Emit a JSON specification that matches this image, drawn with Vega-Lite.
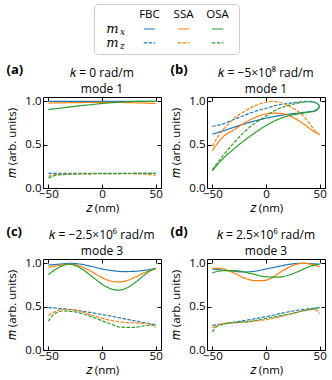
{
"$schema":"https://vega.github.io/schema/vega-lite/v6.json",
"background":"white",
"padding":{"left":6,"top":3,"right":1,"bottom":0},
"config":{
 "font":"Open Sans",
 "view":{"stroke":"black","strokeWidth":1},
 "axis":{"domain":false,"grid":false,"ticks":true,"tickSize":-4,"tickColor":"black","labelPadding":6,"labelFontSize":11.5,"titleFontSize":11.5,"labelColor":"black","titleColor":"black","titleFontWeight":"normal","titlePadding":2},
 "axisX":{"labelPadding":4,"titlePadding":3},
 "axisY":{"titlePadding":7},
 "title":{"fontSize":12,"fontWeight":"normal","color":"black","lineHeight":16,"offset":-32},
 "concat":{"spacing":7},
 "legend":{"disable":true}
},
"datasets":{
"legend":[
{"k":"hdr","col":"FBC","row":"hdr","txt":"FBC"},
{"k":"hdr","col":"SSA","row":"hdr","txt":"SSA"},
{"k":"hdr","col":"OSA","row":"hdr","txt":"OSA"},
{"k":"lab","col":"lab","row":"mx","txt":"m","sub":"x"},
{"k":"lab","col":"lab","row":"mz","txt":"m","sub":"z"},
{"k":"line","col":"FBC","row":"mx","end":"a"},{"k":"line","col":"FBC","row":"mx","end":"b"},
{"k":"line","col":"SSA","row":"mx","end":"a"},{"k":"line","col":"SSA","row":"mx","end":"b"},
{"k":"line","col":"OSA","row":"mx","end":"a"},{"k":"line","col":"OSA","row":"mx","end":"b"},
{"k":"line","col":"FBC","row":"mz","end":"a"},{"k":"line","col":"FBC","row":"mz","end":"b"},
{"k":"line","col":"SSA","row":"mz","end":"a"},{"k":"line","col":"SSA","row":"mz","end":"b"},
{"k":"line","col":"OSA","row":"mz","end":"a"},{"k":"line","col":"OSA","row":"mz","end":"b"}
],
"curves":[
{"p":"a","s":"FBC","c":"mx","z":-50,"m":1.0},{"p":"a","s":"FBC","c":"mx","z":-25,"m":1.0},{"p":"a","s":"FBC","c":"mx","z":0,"m":1.0},{"p":"a","s":"FBC","c":"mx","z":25,"m":1.0},{"p":"a","s":"FBC","c":"mx","z":50,"m":1.0},
{"p":"a","s":"SSA","c":"mx","z":-50,"m":0.98},{"p":"a","s":"SSA","c":"mx","z":-25,"m":0.985},{"p":"a","s":"SSA","c":"mx","z":0,"m":0.988},{"p":"a","s":"SSA","c":"mx","z":25,"m":0.985},{"p":"a","s":"SSA","c":"mx","z":50,"m":0.975},
{"p":"a","s":"OSA","c":"mx","z":-50,"m":0.905},{"p":"a","s":"OSA","c":"mx","z":-40,"m":0.92},{"p":"a","s":"OSA","c":"mx","z":-30,"m":0.935},{"p":"a","s":"OSA","c":"mx","z":-20,"m":0.95},{"p":"a","s":"OSA","c":"mx","z":-10,"m":0.962},{"p":"a","s":"OSA","c":"mx","z":0,"m":0.975},{"p":"a","s":"OSA","c":"mx","z":10,"m":0.985},{"p":"a","s":"OSA","c":"mx","z":20,"m":0.993},{"p":"a","s":"OSA","c":"mx","z":30,"m":0.998},{"p":"a","s":"OSA","c":"mx","z":40,"m":1.0},{"p":"a","s":"OSA","c":"mx","z":50,"m":1.0},
{"p":"a","s":"FBC","c":"mz","z":-50,"m":0.168},{"p":"a","s":"FBC","c":"mz","z":-25,"m":0.168},{"p":"a","s":"FBC","c":"mz","z":0,"m":0.168},{"p":"a","s":"FBC","c":"mz","z":25,"m":0.168},{"p":"a","s":"FBC","c":"mz","z":50,"m":0.168},
{"p":"a","s":"SSA","c":"mz","z":-50,"m":0.135},{"p":"a","s":"SSA","c":"mz","z":-45,"m":0.152},{"p":"a","s":"SSA","c":"mz","z":-40,"m":0.158},{"p":"a","s":"SSA","c":"mz","z":-20,"m":0.163},{"p":"a","s":"SSA","c":"mz","z":0,"m":0.165},{"p":"a","s":"SSA","c":"mz","z":20,"m":0.165},{"p":"a","s":"SSA","c":"mz","z":40,"m":0.16},{"p":"a","s":"SSA","c":"mz","z":45,"m":0.155},{"p":"a","s":"SSA","c":"mz","z":50,"m":0.145},
{"p":"a","s":"OSA","c":"mz","z":-50,"m":0.115},{"p":"a","s":"OSA","c":"mz","z":-45,"m":0.14},{"p":"a","s":"OSA","c":"mz","z":-40,"m":0.152},{"p":"a","s":"OSA","c":"mz","z":-20,"m":0.162},{"p":"a","s":"OSA","c":"mz","z":0,"m":0.165},{"p":"a","s":"OSA","c":"mz","z":20,"m":0.167},{"p":"a","s":"OSA","c":"mz","z":40,"m":0.168},{"p":"a","s":"OSA","c":"mz","z":50,"m":0.168},

{"p":"b","s":"FBC","c":"mx","z":-50,"m":0.62},{"p":"b","s":"FBC","c":"mx","z":-40,"m":0.66},{"p":"b","s":"FBC","c":"mx","z":-30,"m":0.70},{"p":"b","s":"FBC","c":"mx","z":-20,"m":0.74},{"p":"b","s":"FBC","c":"mx","z":-10,"m":0.775},{"p":"b","s":"FBC","c":"mx","z":0,"m":0.805},{"p":"b","s":"FBC","c":"mx","z":10,"m":0.83},{"p":"b","s":"FBC","c":"mx","z":20,"m":0.85},{"p":"b","s":"FBC","c":"mx","z":30,"m":0.865},{"p":"b","s":"FBC","c":"mx","z":40,"m":0.88},{"p":"b","s":"FBC","c":"mx","z":45,"m":0.89},{"p":"b","s":"FBC","c":"mx","z":50,"m":0.93},
{"p":"b","s":"FBC","c":"mz","z":-50,"m":0.71},{"p":"b","s":"FBC","c":"mz","z":-40,"m":0.74},{"p":"b","s":"FBC","c":"mz","z":-30,"m":0.79},{"p":"b","s":"FBC","c":"mz","z":-20,"m":0.84},{"p":"b","s":"FBC","c":"mz","z":-10,"m":0.885},{"p":"b","s":"FBC","c":"mz","z":0,"m":0.92},{"p":"b","s":"FBC","c":"mz","z":10,"m":0.955},{"p":"b","s":"FBC","c":"mz","z":20,"m":0.975},{"p":"b","s":"FBC","c":"mz","z":30,"m":0.99},{"p":"b","s":"FBC","c":"mz","z":40,"m":1.0},{"p":"b","s":"FBC","c":"mz","z":45,"m":0.99},{"p":"b","s":"FBC","c":"mz","z":50,"m":0.95},
{"p":"b","s":"SSA","c":"mx","z":-50,"m":0.43},{"p":"b","s":"SSA","c":"mx","z":-45,"m":0.52},{"p":"b","s":"SSA","c":"mx","z":-40,"m":0.59},{"p":"b","s":"SSA","c":"mx","z":-30,"m":0.67},{"p":"b","s":"SSA","c":"mx","z":-20,"m":0.75},{"p":"b","s":"SSA","c":"mx","z":-10,"m":0.815},{"p":"b","s":"SSA","c":"mx","z":0,"m":0.855},{"p":"b","s":"SSA","c":"mx","z":5,"m":0.865},{"p":"b","s":"SSA","c":"mx","z":15,"m":0.86},{"p":"b","s":"SSA","c":"mx","z":25,"m":0.815},{"p":"b","s":"SSA","c":"mx","z":35,"m":0.74},{"p":"b","s":"SSA","c":"mx","z":45,"m":0.65},{"p":"b","s":"SSA","c":"mx","z":50,"m":0.62},
{"p":"b","s":"SSA","c":"mz","z":-50,"m":0.48},{"p":"b","s":"SSA","c":"mz","z":-45,"m":0.59},{"p":"b","s":"SSA","c":"mz","z":-40,"m":0.67},{"p":"b","s":"SSA","c":"mz","z":-30,"m":0.80},{"p":"b","s":"SSA","c":"mz","z":-20,"m":0.885},{"p":"b","s":"SSA","c":"mz","z":-10,"m":0.95},{"p":"b","s":"SSA","c":"mz","z":0,"m":0.99},{"p":"b","s":"SSA","c":"mz","z":5,"m":1.0},{"p":"b","s":"SSA","c":"mz","z":15,"m":0.98},{"p":"b","s":"SSA","c":"mz","z":25,"m":0.92},{"p":"b","s":"SSA","c":"mz","z":35,"m":0.83},{"p":"b","s":"SSA","c":"mz","z":42,"m":0.72},{"p":"b","s":"SSA","c":"mz","z":48,"m":0.63},{"p":"b","s":"SSA","c":"mz","z":50,"m":0.61},
{"p":"b","s":"OSA","c":"mx","z":-50,"m":0.20},{"p":"b","s":"OSA","c":"mx","z":-40,"m":0.34},{"p":"b","s":"OSA","c":"mx","z":-30,"m":0.45},{"p":"b","s":"OSA","c":"mx","z":-20,"m":0.55},{"p":"b","s":"OSA","c":"mx","z":-10,"m":0.64},{"p":"b","s":"OSA","c":"mx","z":0,"m":0.72},{"p":"b","s":"OSA","c":"mx","z":10,"m":0.785},{"p":"b","s":"OSA","c":"mx","z":20,"m":0.83},{"p":"b","s":"OSA","c":"mx","z":30,"m":0.855},{"p":"b","s":"OSA","c":"mx","z":40,"m":0.875},{"p":"b","s":"OSA","c":"mx","z":45,"m":0.885},{"p":"b","s":"OSA","c":"mx","z":48,"m":0.905},{"p":"b","s":"OSA","c":"mx","z":50,"m":0.95},
{"p":"b","s":"OSA","c":"mz","z":-50,"m":0.21},{"p":"b","s":"OSA","c":"mz","z":-40,"m":0.375},{"p":"b","s":"OSA","c":"mz","z":-30,"m":0.52},{"p":"b","s":"OSA","c":"mz","z":-20,"m":0.65},{"p":"b","s":"OSA","c":"mz","z":-10,"m":0.75},{"p":"b","s":"OSA","c":"mz","z":0,"m":0.83},{"p":"b","s":"OSA","c":"mz","z":10,"m":0.905},{"p":"b","s":"OSA","c":"mz","z":20,"m":0.95},{"p":"b","s":"OSA","c":"mz","z":30,"m":0.98},{"p":"b","s":"OSA","c":"mz","z":40,"m":0.995},{"p":"b","s":"OSA","c":"mz","z":46,"m":0.99},{"p":"b","s":"OSA","c":"mz","z":50,"m":0.94},

{"p":"c","s":"FBC","c":"mx","z":-50,"m":0.98},{"p":"c","s":"FBC","c":"mx","z":-40,"m":0.99},{"p":"c","s":"FBC","c":"mx","z":-30,"m":1.0},{"p":"c","s":"FBC","c":"mx","z":-20,"m":0.99},{"p":"c","s":"FBC","c":"mx","z":-10,"m":0.965},{"p":"c","s":"FBC","c":"mx","z":0,"m":0.935},{"p":"c","s":"FBC","c":"mx","z":10,"m":0.915},{"p":"c","s":"FBC","c":"mx","z":20,"m":0.905},{"p":"c","s":"FBC","c":"mx","z":30,"m":0.908},{"p":"c","s":"FBC","c":"mx","z":40,"m":0.92},{"p":"c","s":"FBC","c":"mx","z":50,"m":0.94},
{"p":"c","s":"SSA","c":"mx","z":-50,"m":0.955},{"p":"c","s":"SSA","c":"mx","z":-40,"m":0.975},{"p":"c","s":"SSA","c":"mx","z":-30,"m":0.99},{"p":"c","s":"SSA","c":"mx","z":-20,"m":0.965},{"p":"c","s":"SSA","c":"mx","z":-10,"m":0.905},{"p":"c","s":"SSA","c":"mx","z":0,"m":0.835},{"p":"c","s":"SSA","c":"mx","z":10,"m":0.79},{"p":"c","s":"SSA","c":"mx","z":15,"m":0.785},{"p":"c","s":"SSA","c":"mx","z":20,"m":0.79},{"p":"c","s":"SSA","c":"mx","z":30,"m":0.835},{"p":"c","s":"SSA","c":"mx","z":40,"m":0.895},{"p":"c","s":"SSA","c":"mx","z":50,"m":0.94},
{"p":"c","s":"OSA","c":"mx","z":-50,"m":0.87},{"p":"c","s":"OSA","c":"mx","z":-40,"m":0.955},{"p":"c","s":"OSA","c":"mx","z":-30,"m":0.99},{"p":"c","s":"OSA","c":"mx","z":-20,"m":0.945},{"p":"c","s":"OSA","c":"mx","z":-10,"m":0.855},{"p":"c","s":"OSA","c":"mx","z":0,"m":0.76},{"p":"c","s":"OSA","c":"mx","z":10,"m":0.70},{"p":"c","s":"OSA","c":"mx","z":15,"m":0.69},{"p":"c","s":"OSA","c":"mx","z":20,"m":0.70},{"p":"c","s":"OSA","c":"mx","z":30,"m":0.77},{"p":"c","s":"OSA","c":"mx","z":40,"m":0.87},{"p":"c","s":"OSA","c":"mx","z":45,"m":0.915},{"p":"c","s":"OSA","c":"mx","z":50,"m":0.94},
{"p":"c","s":"FBC","c":"mz","z":-50,"m":0.49},{"p":"c","s":"FBC","c":"mz","z":-25,"m":0.46},{"p":"c","s":"FBC","c":"mz","z":0,"m":0.41},{"p":"c","s":"FBC","c":"mz","z":25,"m":0.35},{"p":"c","s":"FBC","c":"mz","z":50,"m":0.29},
{"p":"c","s":"SSA","c":"mz","z":-50,"m":0.40},{"p":"c","s":"SSA","c":"mz","z":-45,"m":0.435},{"p":"c","s":"SSA","c":"mz","z":-37,"m":0.465},{"p":"c","s":"SSA","c":"mz","z":-25,"m":0.46},{"p":"c","s":"SSA","c":"mz","z":-10,"m":0.405},{"p":"c","s":"SSA","c":"mz","z":5,"m":0.35},{"p":"c","s":"SSA","c":"mz","z":20,"m":0.32},{"p":"c","s":"SSA","c":"mz","z":35,"m":0.31},{"p":"c","s":"SSA","c":"mz","z":45,"m":0.30},{"p":"c","s":"SSA","c":"mz","z":50,"m":0.26},
{"p":"c","s":"OSA","c":"mz","z":-50,"m":0.33},{"p":"c","s":"OSA","c":"mz","z":-46,"m":0.40},{"p":"c","s":"OSA","c":"mz","z":-37,"m":0.45},{"p":"c","s":"OSA","c":"mz","z":-25,"m":0.44},{"p":"c","s":"OSA","c":"mz","z":-10,"m":0.385},{"p":"c","s":"OSA","c":"mz","z":5,"m":0.315},{"p":"c","s":"OSA","c":"mz","z":17,"m":0.265},{"p":"c","s":"OSA","c":"mz","z":30,"m":0.26},{"p":"c","s":"OSA","c":"mz","z":42,"m":0.283},{"p":"c","s":"OSA","c":"mz","z":50,"m":0.29},

{"p":"d","s":"FBC","c":"mx","z":-50,"m":0.935},{"p":"d","s":"FBC","c":"mx","z":-35,"m":0.915},{"p":"d","s":"FBC","c":"mx","z":-20,"m":0.90},{"p":"d","s":"FBC","c":"mx","z":-10,"m":0.91},{"p":"d","s":"FBC","c":"mx","z":0,"m":0.935},{"p":"d","s":"FBC","c":"mx","z":10,"m":0.96},{"p":"d","s":"FBC","c":"mx","z":20,"m":0.985},{"p":"d","s":"FBC","c":"mx","z":32,"m":1.0},{"p":"d","s":"FBC","c":"mx","z":50,"m":0.99},
{"p":"d","s":"SSA","c":"mx","z":-50,"m":0.945},{"p":"d","s":"SSA","c":"mx","z":-40,"m":0.935},{"p":"d","s":"SSA","c":"mx","z":-30,"m":0.89},{"p":"d","s":"SSA","c":"mx","z":-20,"m":0.83},{"p":"d","s":"SSA","c":"mx","z":-10,"m":0.80},{"p":"d","s":"SSA","c":"mx","z":-3,"m":0.80},{"p":"d","s":"SSA","c":"mx","z":5,"m":0.83},{"p":"d","s":"SSA","c":"mx","z":15,"m":0.91},{"p":"d","s":"SSA","c":"mx","z":25,"m":0.975},{"p":"d","s":"SSA","c":"mx","z":35,"m":1.0},{"p":"d","s":"SSA","c":"mx","z":42,"m":0.99},{"p":"d","s":"SSA","c":"mx","z":50,"m":0.96},
{"p":"d","s":"OSA","c":"mx","z":-50,"m":0.89},{"p":"d","s":"OSA","c":"mx","z":-40,"m":0.915},{"p":"d","s":"OSA","c":"mx","z":-28,"m":0.915},{"p":"d","s":"OSA","c":"mx","z":-15,"m":0.885},{"p":"d","s":"OSA","c":"mx","z":0,"m":0.845},{"p":"d","s":"OSA","c":"mx","z":10,"m":0.84},{"p":"d","s":"OSA","c":"mx","z":20,"m":0.86},{"p":"d","s":"OSA","c":"mx","z":30,"m":0.905},{"p":"d","s":"OSA","c":"mx","z":40,"m":0.96},{"p":"d","s":"OSA","c":"mx","z":45,"m":0.98},{"p":"d","s":"OSA","c":"mx","z":50,"m":0.99},
{"p":"d","s":"FBC","c":"mz","z":-50,"m":0.285},{"p":"d","s":"FBC","c":"mz","z":-25,"m":0.33},{"p":"d","s":"FBC","c":"mz","z":0,"m":0.385},{"p":"d","s":"FBC","c":"mz","z":25,"m":0.45},{"p":"d","s":"FBC","c":"mz","z":50,"m":0.49},
{"p":"d","s":"SSA","c":"mz","z":-50,"m":0.255},{"p":"d","s":"SSA","c":"mz","z":-40,"m":0.305},{"p":"d","s":"SSA","c":"mz","z":-22,"m":0.32},{"p":"d","s":"SSA","c":"mz","z":0,"m":0.35},{"p":"d","s":"SSA","c":"mz","z":20,"m":0.405},{"p":"d","s":"SSA","c":"mz","z":38,"m":0.46},{"p":"d","s":"SSA","c":"mz","z":45,"m":0.47},{"p":"d","s":"SSA","c":"mz","z":50,"m":0.42},
{"p":"d","s":"OSA","c":"mz","z":-50,"m":0.21},{"p":"d","s":"OSA","c":"mz","z":-46,"m":0.27},{"p":"d","s":"OSA","c":"mz","z":-34,"m":0.31},{"p":"d","s":"OSA","c":"mz","z":-15,"m":0.33},{"p":"d","s":"OSA","c":"mz","z":2,"m":0.37},{"p":"d","s":"OSA","c":"mz","z":20,"m":0.41},{"p":"d","s":"OSA","c":"mz","z":38,"m":0.46},{"p":"d","s":"OSA","c":"mz","z":50,"m":0.49}
]
},
"spacing":8,
"vconcat":[
{"spacing":0,"hconcat":[
{"width":50,"height":50,"view":{"stroke":null},"data":{"values":[]},"mark":"point","encoding":{}},
{
 "width":145,"height":50,
 "view":{"stroke":"#cccccc","cornerRadius":4,"strokeWidth":1},
 "data":{"name":"legend"},
 "encoding":{
  "x":{"field":"col","type":"nominal","scale":{"type":"point","domain":["lab","FBC","SSA","OSA"],"padding":0.63},"axis":null},
  "y":{"field":"row","type":"nominal","scale":{"type":"point","domain":["hdr","mx","mz"],"padding":0.79},"axis":null}
 },
 "layer":[
  {"transform":[{"filter":"datum.k==='hdr'"}],"mark":{"type":"text","fontSize":11.5,"baseline":"middle","color":"black"},"encoding":{"text":{"field":"txt"}}},
  {"transform":[{"filter":"datum.k==='lab'"}],"mark":{"type":"text","font":"DejaVu Serif","fontStyle":"italic","fontSize":13,"baseline":"middle","dx":-3,"color":"black"},"encoding":{"text":{"field":"txt"}}},
  {"transform":[{"filter":"datum.k==='lab'"}],"mark":{"type":"text","font":"DejaVu Serif","fontStyle":"italic","fontSize":9,"baseline":"middle","dx":7,"dy":3,"color":"black"},"encoding":{"text":{"field":"sub"}}},
  {"transform":[{"filter":"datum.k==='line'"}],"mark":{"type":"line","strokeWidth":1.2},
   "encoding":{
    "xOffset":{"field":"end","type":"nominal","scale":{"domain":["a","b"],"range":[-11.5,11.5]}},
    "color":{"field":"col","type":"nominal","scale":{"domain":["FBC","SSA","OSA"],"range":["#1f77b4","#ff7f0e","#2ca02c"]},"legend":null},
    "strokeDash":{"field":"row","type":"nominal","scale":{"domain":["mx","mz"],"range":[[1,0],[3.5,1.5]]},"legend":null}
   }}
 ]
}
]},
{"spacing":10,"vconcat":[
{"hconcat":[
{
 "width":118,"height":91,
 "title":{"text":["𝑘 = 0 rad/m","mode 1"]},
 "resolve":{"axis":{"x":"independent","y":"independent"}},
 "layer":[
  {"data":{"name":"curves"},"transform":[{"filter":"datum.p==='a'"}],
   "mark":{"type":"line","interpolate":"monotone","strokeWidth":1.2},
   "encoding":{
    "x":{"field":"z","type":"quantitative","scale":{"domain":[-55,55],"nice":false,"zero":false},"axis":{"values":[-50,0,50],"title":"𝑧 (nm)"}},
    "y":{"field":"m","type":"quantitative","scale":{"domain":[0,1.05],"nice":false},"axis":{"values":[0,0.5,1],"format":".1f","title":"𝑚 (arb. units)"}},
    "color":{"field":"s","type":"nominal","scale":{"domain":["FBC","SSA","OSA"],"range":["#1f77b4","#ff7f0e","#2ca02c"]},"legend":null},
    "strokeDash":{"field":"c","type":"nominal","scale":{"domain":["mx","mz"],"range":[[1,0],[3.5,1.5]]},"legend":null}
   }},
  {"data":{"values":[{"lbl":"(a)"}]},
   "mark":{"type":"text","align":"left","baseline":"alphabetic","fontWeight":"bold","fontSize":13,"color":"black"},
   "encoding":{"x":{"datum":-89,"type":"quantitative","axis":{"orient":"top","values":[-50,0,50],"labels":false,"title":null}},"y":{"datum":1.315,"type":"quantitative","axis":{"orient":"right","values":[0,0.5,1],"labels":false,"title":null}},"text":{"field":"lbl"}}}
 ]
},
{
 "width":118,"height":91,
 "title":{"text":["𝑘 = −5×10⁸ rad/m","mode 1"]},
 "resolve":{"axis":{"x":"independent","y":"independent"}},
 "layer":[
  {"data":{"name":"curves"},"transform":[{"filter":"datum.p==='b'"}],
   "mark":{"type":"line","interpolate":"monotone","strokeWidth":1.2},
   "encoding":{
    "x":{"field":"z","type":"quantitative","scale":{"domain":[-55,55],"nice":false,"zero":false},"axis":{"values":[-50,0,50],"title":"𝑧 (nm)"}},
    "y":{"field":"m","type":"quantitative","scale":{"domain":[0,1.05],"nice":false},"axis":{"values":[0,0.5,1],"format":".1f","title":"𝑚 (arb. units)"}},
    "color":{"field":"s","type":"nominal","scale":{"domain":["FBC","SSA","OSA"],"range":["#1f77b4","#ff7f0e","#2ca02c"]},"legend":null},
    "strokeDash":{"field":"c","type":"nominal","scale":{"domain":["mx","mz"],"range":[[1,0],[3.5,1.5]]},"legend":null}
   }},
  {"data":{"values":[{"lbl":"(b)"}]},
   "mark":{"type":"text","align":"left","baseline":"alphabetic","fontWeight":"bold","fontSize":13,"color":"black"},
   "encoding":{"x":{"datum":-89,"type":"quantitative","axis":{"orient":"top","values":[-50,0,50],"labels":false,"title":null}},"y":{"datum":1.315,"type":"quantitative","axis":{"orient":"right","values":[0,0.5,1],"labels":false,"title":null}},"text":{"field":"lbl"}}}
 ]
}
]},
{"hconcat":[
{
 "width":118,"height":91,
 "title":{"text":["𝑘 = −2.5×10⁶ rad/m","mode 3"]},
 "resolve":{"axis":{"x":"independent","y":"independent"}},
 "layer":[
  {"data":{"name":"curves"},"transform":[{"filter":"datum.p==='c'"}],
   "mark":{"type":"line","interpolate":"monotone","strokeWidth":1.2},
   "encoding":{
    "x":{"field":"z","type":"quantitative","scale":{"domain":[-55,55],"nice":false,"zero":false},"axis":{"values":[-50,0,50],"title":"𝑧 (nm)"}},
    "y":{"field":"m","type":"quantitative","scale":{"domain":[0,1.05],"nice":false},"axis":{"values":[0,0.5,1],"format":".1f","title":"𝑚 (arb. units)"}},
    "color":{"field":"s","type":"nominal","scale":{"domain":["FBC","SSA","OSA"],"range":["#1f77b4","#ff7f0e","#2ca02c"]},"legend":null},
    "strokeDash":{"field":"c","type":"nominal","scale":{"domain":["mx","mz"],"range":[[1,0],[3.5,1.5]]},"legend":null}
   }},
  {"data":{"values":[{"lbl":"(c)"}]},
   "mark":{"type":"text","align":"left","baseline":"alphabetic","fontWeight":"bold","fontSize":13,"color":"black"},
   "encoding":{"x":{"datum":-89,"type":"quantitative","axis":{"orient":"top","values":[-50,0,50],"labels":false,"title":null}},"y":{"datum":1.315,"type":"quantitative","axis":{"orient":"right","values":[0,0.5,1],"labels":false,"title":null}},"text":{"field":"lbl"}}}
 ]
},
{
 "width":118,"height":91,
 "title":{"text":["𝑘 = 2.5×10⁶ rad/m","mode 3"]},
 "resolve":{"axis":{"x":"independent","y":"independent"}},
 "layer":[
  {"data":{"name":"curves"},"transform":[{"filter":"datum.p==='d'"}],
   "mark":{"type":"line","interpolate":"monotone","strokeWidth":1.2},
   "encoding":{
    "x":{"field":"z","type":"quantitative","scale":{"domain":[-55,55],"nice":false,"zero":false},"axis":{"values":[-50,0,50],"title":"𝑧 (nm)"}},
    "y":{"field":"m","type":"quantitative","scale":{"domain":[0,1.05],"nice":false},"axis":{"values":[0,0.5,1],"format":".1f","title":"𝑚 (arb. units)"}},
    "color":{"field":"s","type":"nominal","scale":{"domain":["FBC","SSA","OSA"],"range":["#1f77b4","#ff7f0e","#2ca02c"]},"legend":null},
    "strokeDash":{"field":"c","type":"nominal","scale":{"domain":["mx","mz"],"range":[[1,0],[3.5,1.5]]},"legend":null}
   }},
  {"data":{"values":[{"lbl":"(d)"}]},
   "mark":{"type":"text","align":"left","baseline":"alphabetic","fontWeight":"bold","fontSize":13,"color":"black"},
   "encoding":{"x":{"datum":-89,"type":"quantitative","axis":{"orient":"top","values":[-50,0,50],"labels":false,"title":null}},"y":{"datum":1.315,"type":"quantitative","axis":{"orient":"right","values":[0,0.5,1],"labels":false,"title":null}},"text":{"field":"lbl"}}}
 ]
}
]}
]}
]
}
